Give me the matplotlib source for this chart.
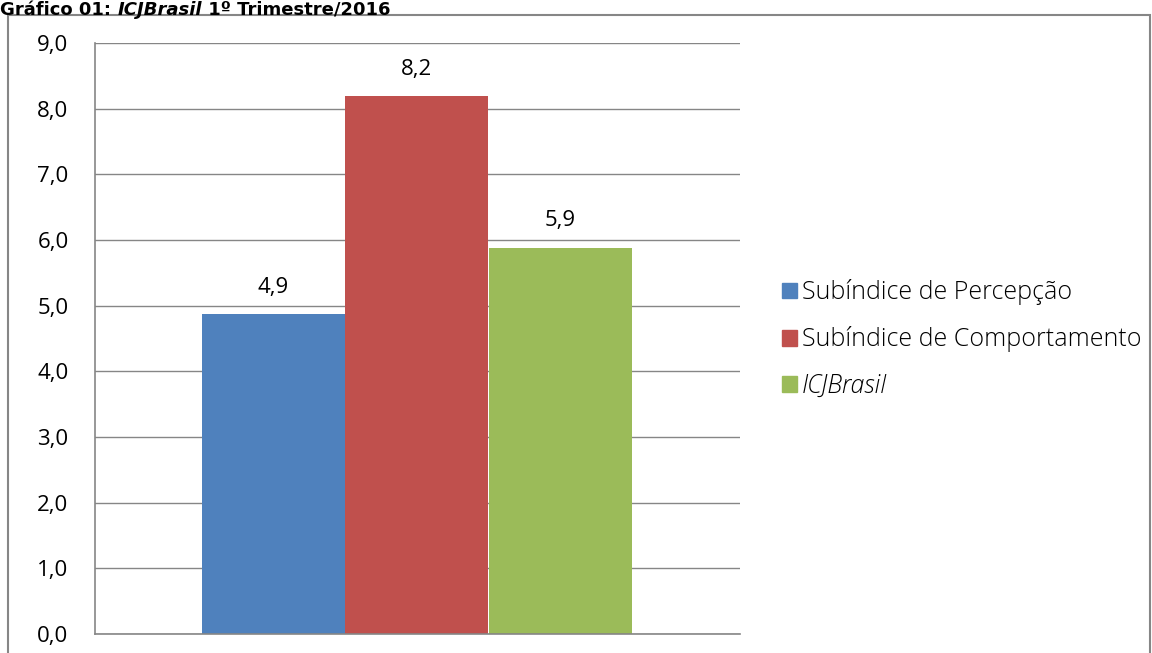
import matplotlib.pyplot as plt
from matplotlib.patches import Rectangle, Patch

series = ["Subíndice de Percepção", "Subíndice de Comportamento", "ICJBrasil"]
values = [4.87, 8.19, 5.88]
value_labels = ["4,9", "8,2", "5,9"]
colors = ["#4f81bd", "#c0504d", "#9bbb59"]
yticks = [0, 1, 2, 3, 4, 5, 6, 7, 8, 9]

fig = plt.figure(figsize=(11.52, 6.53), dpi=100)
ax = fig.add_axes([95 / 1152, 19 / 653, 645 / 1152, 591 / 653])

# outer frame around chart area
fig.patches.append(Rectangle((8 / 1152, -0.05), 1142 / 1152, (638 / 653) + 0.05,
                             transform=fig.transFigure, fill=False,
                             edgecolor="#868686", linewidth=1.5))

# title in three pieces (middle one italic)
ty = 1 - 1 / 653
parts = [("Gráfico 01: ", "normal"), ("ICJBrasil", "italic"), (" 1º Trimestre/2016", "normal")]
x = 0.0
for txt, st in parts:
    t = fig.text(x, ty, txt, fontsize=13, fontweight="bold", style=st,
                 family="DejaVu Sans", va="top", ha="left")
    fig.canvas.draw()
    x = t.get_window_extent().x1 / 1152

width = 143
xs = [202 + width / 2, 345 + width / 2, 489 + width / 2]
for xc, v, c, lab in zip(xs, values, colors, value_labels):
    ax.bar(xc, v, width=width, color=c)
    ax.text(xc, v + 0.25, lab, ha="center", va="bottom", fontsize=16,
            family="Open Sans")

ax.set_xlim(95, 740)
ax.set_ylim(0, 9)
ax.set_yticks(yticks)
ax.set_yticklabels([f"{t:.1f}".replace(".", ",") for t in yticks], fontsize=16,
                   family="Open Sans")
ax.set_xticks([])
ax.grid(axis="y", color="#868686", linewidth=1)
ax.set_axisbelow(True)
for s in ["top", "right"]:
    ax.spines[s].set_visible(False)
for s in ["left", "bottom"]:
    ax.spines[s].set_color("#868686")
    ax.spines[s].set_linewidth(1.2)
ax.tick_params(axis="y", length=0, pad=19)

handles = [Patch(color=c) for c in colors]
leg = fig.legend(handles, series, loc="center left", bbox_to_anchor=(759 / 1152, 1 - 339 / 653),
                 frameon=False, handlelength=0.6, handleheight=0.6,
                 handletextpad=0.2, labelspacing=0.85,
                 prop={"family": "Open Sans", "weight": "light", "size": 18})
leg.get_texts()[2].set_style("italic")

fig.savefig("out.png", dpi=100)
